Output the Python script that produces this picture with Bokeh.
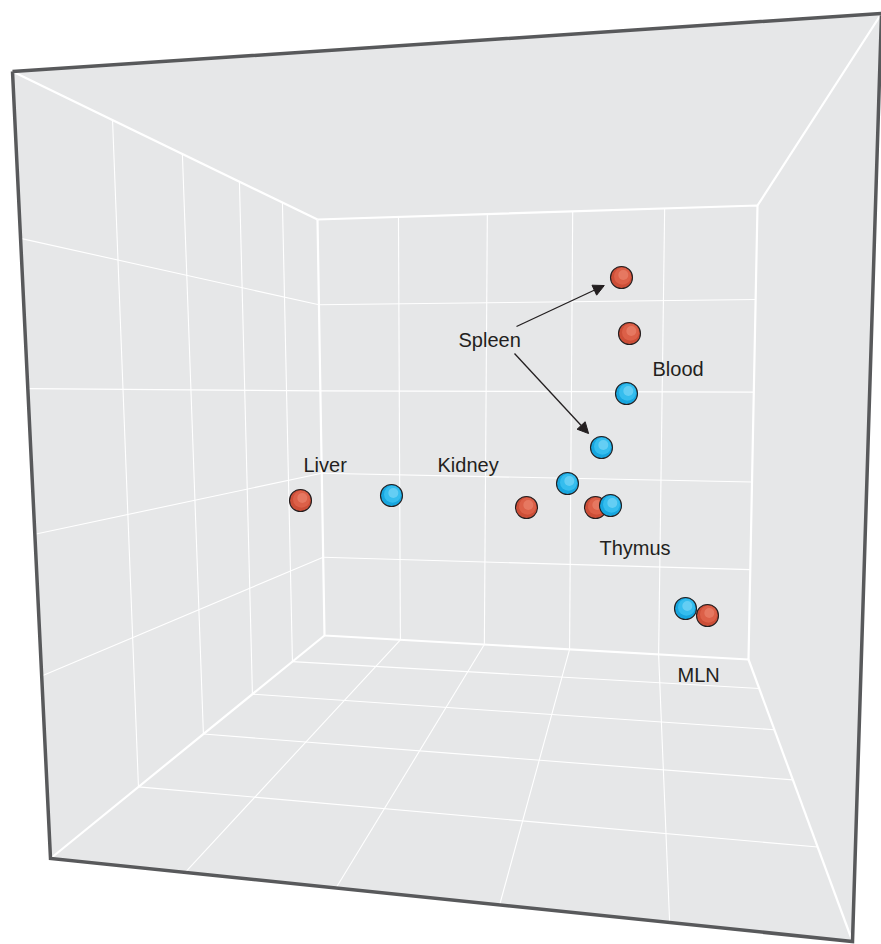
import numpy as np
from bokeh.plotting import figure
from bokeh.models import Range1d, Arrow, NormalHead
from bokeh.core.properties import value
from bokeh.embed import file_html
from bokeh.resources import INLINE

W, H = 881, 944

# ---- projected box corners (screen units) ----
outer_tl = (12, 71); outer_tr = (881, 13); outer_br = (852, 941); outer_bl = (50, 858)
inner_tl = (317, 219); inner_tr = (757, 205); inner_br = (748, 659); inner_bl = (324, 635)

# ---- grid divisions, as fractions along each box edge ----
back_col_top = [0.184, 0.386, 0.580, 0.789]
back_col_bot = [0.179, 0.377, 0.578, 0.788]
back_row_left = [0.205, 0.412, 0.610, 0.812]
back_row_right = [0.207, 0.411, 0.609, 0.802]
left_depth_top = [0.328, 0.557, 0.744, 0.885]
left_depth_bot = [0.321, 0.558, 0.737, 0.883]
left_row_outer = [0.212, 0.403, 0.588, 0.768]
left_row_inner = back_row_left
floor_depth_left = left_depth_bot
floor_depth_right = [0.335, 0.573, 0.751, 0.897]
floor_col_front = [0.168, 0.356, 0.560, 0.772]
floor_col_back = back_col_bot

# ---- samples (projected PCA positions) ----
tissue = ["Liver", "Liver", "Kidney", "Kidney", "Spleen", "Spleen",
          "Blood", "Blood", "Thymus", "Thymus", "MLN", "MLN"]
group = ["red", "blue", "red", "blue", "red", "blue",
         "red", "blue", "red", "blue", "blue", "red"]
pc_x = [300, 391, 526, 567, 621, 601, 629, 626, 595, 610, 685, 707]
pc_y = [500, 495, 507, 483, 277, 447, 333, 393, 507, 505, 608, 615]

# ---- labels ----
label_text = ["Liver", "Kidney", "Spleen", "Blood", "Thymus", "MLN"]
label_x = [303, 437, 458, 652, 599, 677]
label_y = [464, 464, 339, 368, 547, 674]
spleen_arrow_start_x = [516, 514]
spleen_arrow_start_y = [326, 353]


def lerp(a, b, t):
    return (a[0] + (b[0] - a[0]) * t, a[1] + (b[1] - a[1]) * t)


def grid_lines(e1a, e1b, fr1, e2a, e2b, fr2):
    xs, ys = [], []
    for f1, f2 in zip(fr1, fr2):
        p1 = lerp(e1a, e1b, f1)
        p2 = lerp(e2a, e2b, f2)
        xs.append([p1[0], p2[0]])
        ys.append([p1[1], p2[1]])
    return xs, ys


p = figure(width=W, height=H, x_range=Range1d(0, W), y_range=Range1d(H, 0),
           x_axis_type=None, y_axis_type=None, output_backend="svg",
           toolbar_location=None, min_border=0)
p.outline_line_color = None
p.grid.visible = False
p.background_fill_color = "white"
p.border_fill_color = "white"

box_x = [outer_tl[0], outer_tr[0], outer_br[0], outer_bl[0]]
box_y = [outer_tl[1], outer_tr[1], outer_br[1], outer_bl[1]]
p.patch(box_x, box_y, fill_color="#e6e7e8", line_color=None)

# thin grid lines
gx, gy = [], []
for args in [
    (inner_tl, inner_tr, back_col_top, inner_bl, inner_br, back_col_bot),
    (inner_tl, inner_bl, back_row_left, inner_tr, inner_br, back_row_right),
    (outer_tl, inner_tl, left_depth_top, outer_bl, inner_bl, left_depth_bot),
    (outer_tl, outer_bl, left_row_outer, inner_tl, inner_bl, left_row_inner),
    (outer_bl, inner_bl, floor_depth_left, outer_br, inner_br, floor_depth_right),
    (outer_bl, outer_br, floor_col_front, inner_bl, inner_br, floor_col_back),
]:
    xs, ys = grid_lines(*args)
    gx += xs
    gy += ys
p.multi_line(gx, gy, line_color="white", line_width=1.1)

# structural white edges
sx = [[outer_tl[0], inner_tl[0]], [outer_tr[0], inner_tr[0]],
      [outer_br[0], inner_br[0]], [outer_bl[0], inner_bl[0]],
      [inner_tl[0], inner_tr[0], inner_br[0], inner_bl[0], inner_tl[0]]]
sy = [[outer_tl[1], inner_tl[1]], [outer_tr[1], inner_tr[1]],
      [outer_br[1], inner_br[1]], [outer_bl[1], inner_bl[1]],
      [inner_tl[1], inner_tr[1], inner_br[1], inner_bl[1], inner_tl[1]]]
p.multi_line(sx, sy, line_color="white", line_width=2.2)

# dark outer frame
p.line(box_x + [box_x[0]], box_y + [box_y[0]], line_color="#58595b",
       line_width=3.5, line_join="miter")

# arrows from the Spleen label
spleen_idx = [i for i, t in enumerate(tissue) if t == "Spleen"]
for (sx0, sy0), i in zip(zip(spleen_arrow_start_x, spleen_arrow_start_y), spleen_idx):
    dx, dy = pc_x[i] - sx0, pc_y[i] - sy0
    d = (dx * dx + dy * dy) ** 0.5
    ex, ey = pc_x[i] - dx / d * 19, pc_y[i] - dy / d * 19
    p.add_layout(Arrow(end=NormalHead(size=11, fill_color="#231f20", line_color="#231f20",
                                      line_width=1),
                       x_start=sx0, y_start=sy0, x_end=ex, y_end=ey,
                       line_color="#231f20", line_width=1.3))

# spheres
shades = {
    "red": ["#cc4e37", "#dc6048", "#e9806a"],
    "blue": ["#17a6df", "#35bdee", "#74d4f5"],
}
for xi, yi, g in zip(pc_x, pc_y, group):
    c = shades[g]
    p.circle([xi], [yi], radius=11, fill_color=c[0], line_color=None)
    p.circle([xi + 1.0], [yi - 1.2], radius=8.5, fill_color=c[1], line_color=None)
    p.circle([xi + 1.8], [yi - 2.5], radius=5.0, fill_color=c[2], line_color=None, fill_alpha=0.75)
    p.circle([xi], [yi], radius=11, fill_color=None, line_color="#231f20", line_width=1.1)

p.text(x=label_x, y=label_y, text=label_text, text_font=value("Liberation Sans"),
       text_font_size="20px", text_color="#231f20", text_baseline="middle",
       text_align="left")

open("out.html", "w").write(file_html(p, INLINE))
